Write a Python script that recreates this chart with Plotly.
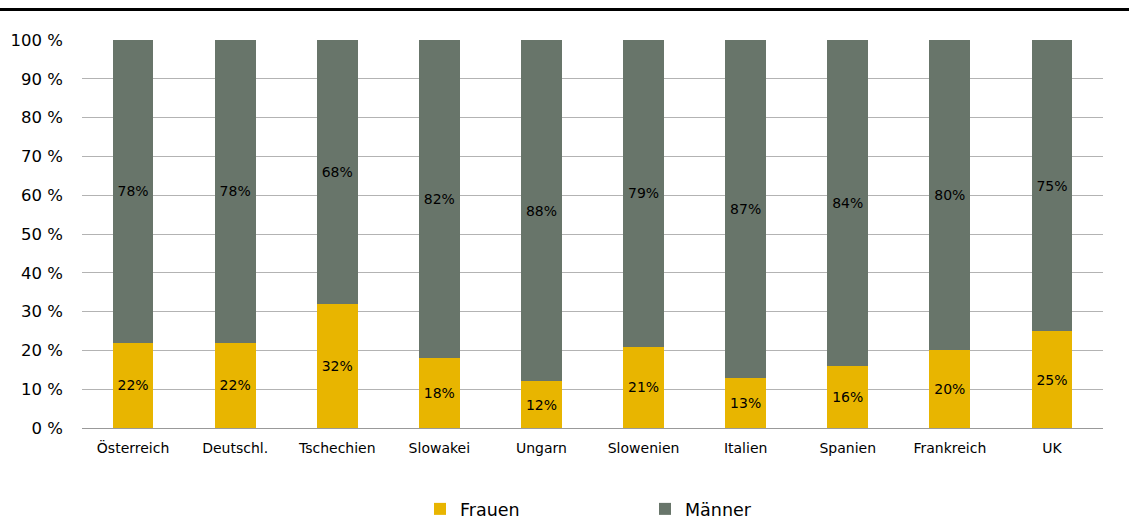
import plotly.graph_objects as go

countries = ["Österreich", "Deutschl.", "Tschechien", "Slowakei", "Ungarn",
             "Slowenien", "Italien", "Spanien", "Frankreich", "UK"]
frauen = [22, 22, 32, 18, 12, 21, 13, 16, 20, 25]
maenner = [78, 78, 68, 82, 88, 79, 87, 84, 80, 75]
y_ticks = [0, 10, 20, 30, 40, 50, 60, 70, 80, 90, 100]
y_tick_labels = [f"{v} %" for v in y_ticks]

FONT = "DejaVu Sans"
YELLOW = "#E8B500"
GREY = "#68756A"

fig = go.Figure()
fig.add_trace(go.Bar(
    x=countries, y=frauen, name="Frauen", marker_color=YELLOW,
    text=[f"{v}%" for v in frauen], textposition="inside",
    insidetextanchor="middle", textfont=dict(color="black", size=14, family=FONT),
    width=0.4, marker_line_width=0,
))
fig.add_trace(go.Bar(
    x=countries, y=maenner, name="Männer", marker_color=GREY,
    text=[f"{v}%" for v in maenner], textposition="inside",
    insidetextanchor="middle", textfont=dict(color="black", size=14, family=FONT),
    width=0.4, marker_line_width=0,
))

W, H = 1129, 519
L, R, T, B = 82, 26, 40, 91
pw = W - L - R
ph = H - T - B

fig.update_layout(
    barmode="stack",
    width=W, height=H,
    margin=dict(l=L, r=R, t=T, b=B, autoexpand=False),
    paper_bgcolor="white", plot_bgcolor="white",
    font=dict(family=FONT, color="black"),
    uniformtext=dict(mode="show", minsize=10),
    showlegend=True,
    legend=dict(
        orientation="h", x=(420 - L) / pw, xanchor="left",
        y=-(63) / ph, yanchor="top",
        font=dict(size=17.5, family=FONT),
        entrywidth=180, entrywidthmode="pixels",
        traceorder="normal",
    ),
    xaxis=dict(
        tickfont=dict(size=14, family=FONT), showgrid=False,
        showline=False, ticks="", ticklabelstandoff=10,
    ),
    yaxis=dict(
        range=[0, 100], tickvals=y_ticks, ticktext=y_tick_labels,
        tickfont=dict(size=16.5, family=FONT), showgrid=True,
        gridcolor="#b3b3b3", gridwidth=1, zeroline=True,
        zerolinecolor="#999999", zerolinewidth=1, showline=False,
        ticks="", ticklabelstandoff=18,
    ),
    shapes=[dict(
        type="line", xref="paper", yref="paper",
        x0=-L / pw, x1=1 + R / pw, y0=1 + (T - 9.5) / ph, y1=1 + (T - 9.5) / ph,
        line=dict(color="black", width=3),
    )],
)

fig.write_html("out.html", config={"displayModeBar": False},
               post_script="document.body.style.margin='0';")
